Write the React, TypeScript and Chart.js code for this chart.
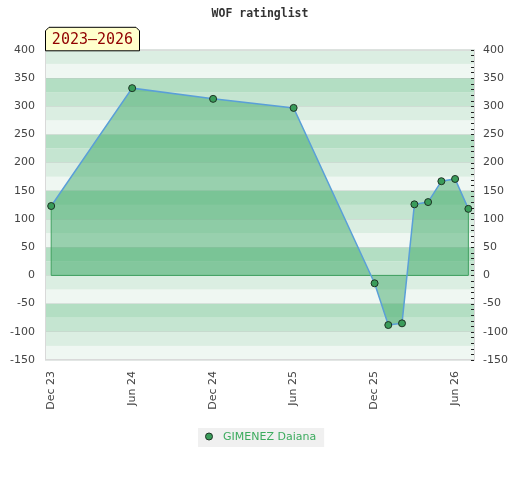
import { useEffect, useRef } from "react";
import { Chart, registerables } from "chart.js";

Chart.register(...registerables);

const chartTitle = "WOF ratinglist";
const periodLabel = "2023–2026";
const seriesName = "GIMENEZ Daiana";
const dates = [
  "2023-12-01", "2024-06-01", "2024-12-01", "2025-06-01", "2025-12-01", "2026-01-01",
  "2026-02-01", "2026-03-01", "2026-04-01", "2026-05-01", "2026-06-01", "2026-07-01",
];
const ratings = [123, 332, 313, 297, -14, -88, -85, 126, 130, 167, 171, 118];
const tickDates = ["2023-12-01", "2024-06-01", "2024-12-01", "2025-06-01", "2025-12-01", "2026-06-01"];
const tickLabels = ["Dec 23", "Jun 24", "Dec 24", "Jun 25", "Dec 25", "Jun 26"];
const yMin = -150;
const yMax = 400;
const yStep = 50;

const DAY = 86400000;
const ORIGIN = Date.UTC(2023, 11, 1);
const dayOf = (s: string) => {
  const [y, m, d] = s.split("-").map(Number);
  return (Date.UTC(y, m - 1, d) - ORIGIN) / DAY;
};

const BAND = { L: "#dbeee2", VL: "#eff7f2", M: "#b3dec3", ML: "#c5e5d1" };
const FONT = "'DejaVu Sans', sans-serif";
const MONO = "'DejaVu Sans Mono', monospace";

const decor = {
  id: "decor",
  beforeDraw(chart: any) {
    const { ctx, chartArea: a, scales } = chart;
    const y = scales.y;
    ctx.save();
    for (let b = yMin; b < yMax; b += 25) {
      const m = ((b % 100) + 100) % 100;
      ctx.fillStyle = m === 75 ? BAND.L : m === 50 ? BAND.VL : m === 25 ? BAND.M : BAND.ML;
      const top = y.getPixelForValue(b + 25);
      const bot = y.getPixelForValue(b);
      ctx.fillRect(a.left, top, a.right - a.left, bot - top);
    }
    ctx.restore();
  },
  beforeDatasetsDraw(chart: any) {
    const { ctx, scales } = chart;
    const x = scales.x;
    const y = scales.y;
    const x0 = x.getPixelForValue(dayOf(dates[0]));
    const x1 = x.getPixelForValue(dayOf(dates[dates.length - 1]));
    const y0 = y.getPixelForValue(0);
    ctx.save();
    ctx.strokeStyle = "#3d9e5e";
    ctx.lineWidth = 1;
    ctx.beginPath();
    ctx.moveTo(x0, y.getPixelForValue(ratings[0]));
    ctx.lineTo(x0, y0);
    ctx.lineTo(x1, y0);
    ctx.lineTo(x1, y.getPixelForValue(ratings[ratings.length - 1]));
    ctx.stroke();
    ctx.restore();
  },
  afterDraw(chart: any) {
    const { ctx, chartArea: a, scales, width } = chart;
    const y = scales.y;
    ctx.save();
    // plot border
    ctx.strokeStyle = "#d9d9d9";
    ctx.lineWidth = 1;
    ctx.strokeRect(a.left + 0.5, a.top + 0.5, a.right - a.left - 1, a.bottom - a.top - 1);
    // right minor ticks
    ctx.strokeStyle = "#222";
    ctx.beginPath();
    for (let v = yMin; v <= yMax; v += 10) {
      const py = Math.round(y.getPixelForValue(v)) + 0.5;
      ctx.moveTo(a.right - 4, py);
      ctx.lineTo(a.right - 1, py);
    }
    ctx.stroke();
    // period label box
    const bl = a.left, br = a.left + 95, bt = a.top - 23, bb = a.top + 1, c = 4;
    ctx.beginPath();
    ctx.moveTo(bl + 0.5, bb);
    ctx.lineTo(bl + 0.5, bt + c);
    ctx.lineTo(bl + c, bt + 0.5);
    ctx.lineTo(br - c, bt + 0.5);
    ctx.lineTo(br - 0.5, bt + c);
    ctx.lineTo(br - 0.5, bb);
    ctx.closePath();
    ctx.fillStyle = "#ffffcc";
    ctx.fill();
    ctx.strokeStyle = "#000";
    ctx.stroke();
    ctx.fillStyle = "#900000";
    ctx.font = `15px ${MONO}`;
    ctx.textAlign = "center";
    ctx.textBaseline = "middle";
    ctx.fillText(periodLabel, (bl + br) / 2, (bt + bb) / 2 + 1);
    // legend
    const ds = chart.data.datasets[0];
    ctx.font = `11px ${FONT}`;
    const tw = ctx.measureText(ds.label).width;
    const total = 11 + 14 + tw + 8;
    const lx = Math.round(width / 2 - total / 2 + 1);
    const ly = 428;
    ctx.fillStyle = "#f0f0f0";
    ctx.fillRect(lx, ly, total, 19);
    ctx.beginPath();
    ctx.arc(lx + 11, ly + 8.5, 3.5, 0, Math.PI * 2);
    ctx.fillStyle = ds.pointBackgroundColor;
    ctx.fill();
    ctx.strokeStyle = ds.pointBorderColor;
    ctx.stroke();
    ctx.fillStyle = "#3cab5e";
    ctx.textAlign = "left";
    ctx.fillText(ds.label, lx + 25, ly + 9.5);
    ctx.restore();
  },
};

export default function App() {
  const ref = useRef<HTMLCanvasElement | null>(null);
  useEffect(() => {
    document.body.style.margin = "0";
    if (!ref.current) return;
    const yTicks = {
      stepSize: yStep,
      color: "#444",
      font: { family: FONT, size: 11 },
    };
    const chart = new Chart(ref.current, {
      type: "line",
      data: {
        datasets: [
          {
            label: seriesName,
            data: dates.map((d, i) => ({ x: dayOf(d), y: ratings[i] })),
            borderColor: "#5a9fd8",
            borderWidth: 1.5,
            backgroundColor: "rgba(66,170,106,0.5)",
            fill: "origin",
            tension: 0,
            pointRadius: 3.5,
            pointBackgroundColor: "#3a9c5a",
            pointBorderColor: "#1d3324",
            pointBorderWidth: 1,
          },
        ],
      },
      options: {
        animation: false,
        responsive: false,
        layout: { padding: { left: 0, right: 0, top: 0, bottom: 60 } },
        plugins: {
          legend: { display: false },
          tooltip: { enabled: false },
          filler: { drawTime: "beforeDatasetsDraw" },
          title: {
            display: true,
            text: chartTitle,
            color: "#333",
            font: { family: MONO, size: 11.5, weight: "bold" },
            padding: { top: 7, bottom: 29 },
          },
        },
        scales: {
          x: {
            type: "linear",
            min: -14,
            max: 958,
            grid: { display: false, drawTicks: false },
            border: { display: false },
            afterBuildTicks: (s: any) => {
              s.ticks = tickDates.map((d) => ({ value: dayOf(d) }));
            },
            afterFit: (s: any) => {
              s.height = 60;
            },
            ticks: {
              autoSkip: false,
              maxRotation: 90,
              minRotation: 90,
              padding: 11,
              color: "#444",
              font: { family: FONT, size: 11 },
              callback: (v: any) => {
                const i = tickDates.findIndex((d) => dayOf(d) === v);
                return i >= 0 ? tickLabels[i] : "";
              },
            },
          },
          y: {
            position: "left",
            min: yMin,
            max: yMax,
            grid: { color: "rgba(190,200,195,0.45)", drawTicks: false },
            border: { display: false },
            afterFit: (s: any) => {
              s.width = 45;
            },
            ticks: { ...yTicks, padding: 10 },
          },
          y2: {
            position: "right",
            min: yMin,
            max: yMax,
            grid: { display: false, drawTicks: false },
            border: { display: false },
            afterFit: (s: any) => {
              s.width = 45;
            },
            ticks: { ...yTicks, padding: 8 },
          },
        },
      },
      plugins: [decor],
    } as any);
    return () => chart.destroy();
  }, []);
  return (
    <div style={{ width: 520, height: 480 }}>
      <canvas ref={ref} width={520} height={480} />
    </div>
  );
}
